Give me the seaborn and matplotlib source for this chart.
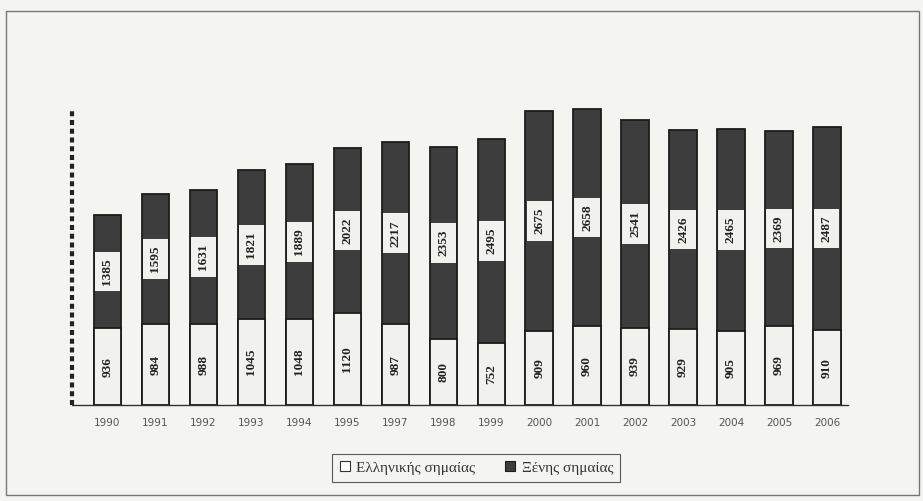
import matplotlib
matplotlib.use("Agg")
import matplotlib.pyplot as plt
import seaborn as sns
import pandas as pd
import numpy as np
from matplotlib.patches import Rectangle
from matplotlib.lines import Line2D

years = ["1990", "1991", "1992", "1993", "1994", "1995", "1997", "1998",
         "1999", "2000", "2001", "2002", "2003", "2004", "2005", "2006"]
greek_flag = [936, 984, 988, 1045, 1048, 1120, 987, 800,
              752, 909, 960, 939, 929, 905, 969, 910]
foreign_flag = [1385, 1595, 1631, 1821, 1889, 2022, 2217, 2353,
                2495, 2675, 2658, 2541, 2426, 2465, 2369, 2487]
legend_labels = ["Ελληνικής σημαίας", "Ξένης σημαίας"]

df = pd.DataFrame({"year": years, "greek": greek_flag, "foreign": foreign_flag})
df["total"] = df["greek"] + df["foreign"]

BG = "#f4f4f1"
DARK = "#3d3d3d"
LIGHT = "#f1f1ee"
EDGE = "#1c1c1c"

sns.set_theme(style="white")
plt.rcParams["font.family"] = ["Liberation Serif", "DejaVu Serif"]

fig = plt.figure(figsize=(9.23, 5.01), dpi=100, facecolor=BG)
ax = fig.add_axes([72 / 923, 96 / 501, 776 / 923, 295 / 501])
ax.set_facecolor(BG)

# stacked bars: full height (dark) then the Greek-flag part on top of it
sns.barplot(data=df, x="year", y="total", color=DARK, saturation=1, width=0.57,
            edgecolor=EDGE, linewidth=1.3, ax=ax)
sns.barplot(data=df, x="year", y="greek", color=LIGHT, saturation=1, width=0.57,
            edgecolor=EDGE, linewidth=1.3, ax=ax)
for bar in ax.patches:
    bar.set_clip_on(False)

for i, (g, f) in enumerate(zip(df["greek"], df["foreign"])):
    ax.text(i, g / 2, str(g), rotation=90, ha="center", va="center",
            fontsize=9.5, fontweight="bold", color="#222222")
    ax.text(i, g + f / 2, str(f), rotation=90, ha="center", va="center",
            fontsize=9.5, fontweight="bold", color="#222222",
            bbox=dict(boxstyle="square,pad=0.5", facecolor=LIGHT, edgecolor="none"))

ax.set_xlim(-0.74, len(years) - 0.56)
ax.set_ylim(0, 3600)
ax.set_xlabel("")
ax.set_ylabel("")
ax.set_yticks([])

for side in ["top", "right"]:
    ax.spines[side].set_visible(False)
ax.spines["bottom"].set_color("#333333")
ax.spines["bottom"].set_linewidth(1.0)
left = ax.spines["left"]
left.set_color("#222222")
left.set_linewidth(3.0)
left.set_capstyle("butt")
left.set_linestyle((0, (1.2, 0.9)))

ax.set_xticks(range(len(years)))
ax.set_xticklabels(years, fontsize=7.5, color="#555555", family="DejaVu Sans")
ax.tick_params(axis="x", which="major", length=0, pad=9)
ax.set_xticks(np.arange(len(years) - 1) + 0.5, minor=True)
ax.tick_params(axis="x", which="minor", length=4, width=0.8, color="#444444",
               direction="out")

# outer frame of the chart area
fig.patches.append(Rectangle((6 / 923, 6 / 501), 913 / 923, 484 / 501,
                             transform=fig.transFigure, fill=False,
                             edgecolor="#777777", linewidth=1.0))

handles = [Line2D([], [], marker="s", linestyle="none", markersize=6.5,
                  markerfacecolor="white", markeredgecolor="#333333", markeredgewidth=0.8),
           Line2D([], [], marker="s", linestyle="none", markersize=6.5,
                  markerfacecolor=DARK, markeredgecolor=EDGE, markeredgewidth=0.8)]
leg = fig.legend(handles, legend_labels, loc="center", bbox_to_anchor=(476 / 923, 0.066),
                 ncol=2, frameon=True, fancybox=False, fontsize=11,
                 handlelength=0.8, handletextpad=0.35, columnspacing=1.9,
                 borderpad=0.45, edgecolor="#333333", facecolor=BG)
leg.get_frame().set_linewidth(0.8)
for t in leg.get_texts():
    t.set_color("#333333")

fig.savefig("out.png", dpi=100, facecolor=BG)
